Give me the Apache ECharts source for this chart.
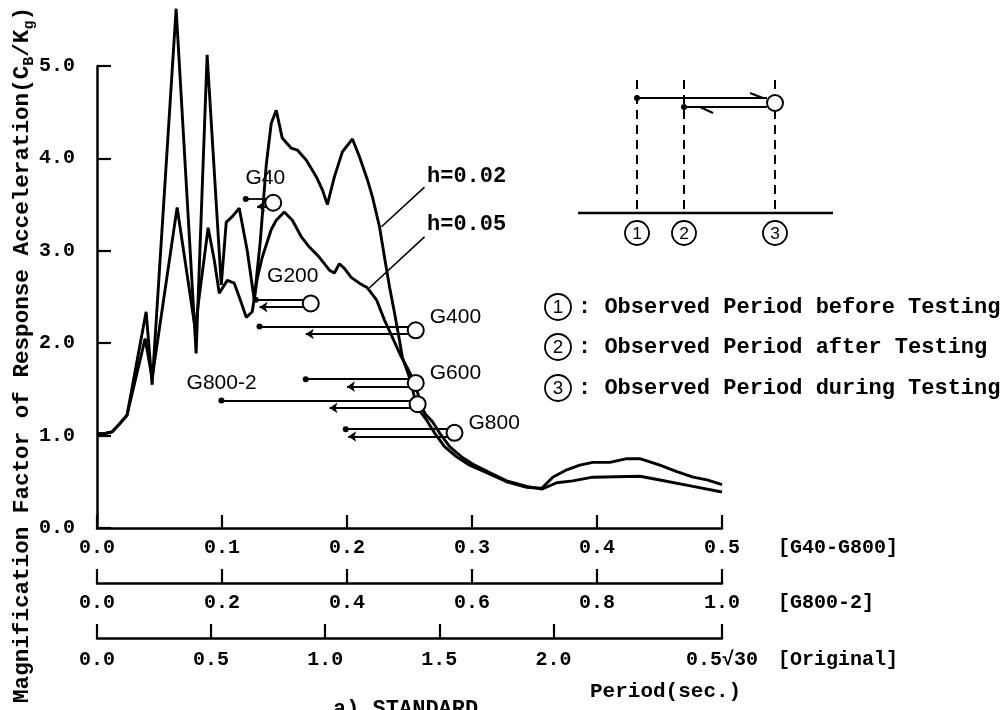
<!DOCTYPE html>
<html>
<head>
<meta charset="utf-8">
<script src="https://cdn.jsdelivr.net/npm/echarts@6.0.0/dist/echarts.min.js"></script>
<style>
html,body{margin:0;padding:0;background:#fff}
#chart{width:1006px;height:710px}
</style>
</head>
<body>
<div id="chart"></div>
<script>
// spectrum h=0.02 (period in sec, magnification factor)
var periodH002 = [0.000,0.0056,0.0120,0.0176,0.0240,0.0393,0.0441,0.0633,0.0793,0.0881,0.0994,0.1034,0.1082,0.1138,0.1202,0.1258,0.1306,0.1354,0.1394,0.1434,0.1482,0.1554,0.1603,0.1675,0.1755,0.1803,0.1843,0.1899,0.1963,0.2043,0.2099,0.2163,0.2204,0.2260,0.2300,0.2340,0.2380,0.2420,0.2444,0.2484,0.2516,0.2540,0.2564,0.2636,0.2700,0.2780,0.2877,0.2981,0.3117,0.3277,0.3438,0.3558,0.3646,0.3758,0.3862,0.3966,0.4103,0.4239,0.4343,0.4503,0.4639,0.4768,0.4880,0.5000];
var valueH002  = [1.02,1.02,1.04,1.12,1.22,2.34,1.55,5.62,1.89,5.12,2.63,3.31,3.37,3.46,3.00,2.47,3.10,3.93,4.38,4.52,4.22,4.11,4.09,3.98,3.80,3.66,3.50,3.80,4.07,4.21,4.02,3.77,3.58,3.26,2.93,2.61,2.33,2.03,1.84,1.69,1.56,1.41,1.30,1.17,1.03,0.88,0.77,0.68,0.60,0.50,0.44,0.43,0.55,0.63,0.68,0.71,0.71,0.75,0.75,0.68,0.61,0.55,0.52,0.47];

// spectrum h=0.05
var periodH005 = [0.000,0.0056,0.0120,0.0176,0.0240,0.0385,0.0441,0.0641,0.0785,0.0889,0.0938,0.0978,0.1042,0.1098,0.1146,0.1194,0.1242,0.1282,0.1322,0.1394,0.1434,0.1498,0.1563,0.1635,0.1699,0.1779,0.1859,0.1899,0.1939,0.1979,0.2035,0.2099,0.2163,0.2236,0.2300,0.2364,0.2428,0.2484,0.2532,0.2564,0.2588,0.2628,0.2684,0.2740,0.2821,0.2917,0.3021,0.3141,0.3277,0.3438,0.3558,0.3678,0.3806,0.3966,0.4343,0.4503,0.4768,0.5000];
var valueH005  = [1.02,1.02,1.04,1.12,1.22,2.05,1.62,3.47,2.16,3.25,2.90,2.54,2.68,2.65,2.47,2.28,2.34,2.70,2.93,3.23,3.33,3.42,3.33,3.15,3.04,2.93,2.79,2.76,2.86,2.81,2.71,2.65,2.60,2.47,2.25,2.06,1.87,1.73,1.60,1.47,1.34,1.23,1.15,1.03,0.88,0.77,0.68,0.60,0.51,0.45,0.42,0.49,0.51,0.55,0.56,0.52,0.45,0.39];

// observed periods [G40-G800] scale
var specimens = ['G40','G200','G400','G600','G800'];
var tBefore   = [0.119,0.127,0.130,0.167,0.199];
var tAfter    = [0.128,0.130,0.167,0.200,0.201];
var tDuring   = [0.141,0.171,0.255,0.255,0.286];
var levels    = [3.52,2.43,2.14,1.57,1.03];

// G800-2 on the [G800-2] scale
var g8002 = {name:'G800-2', before:0.199, after:0.372, during:0.513, level:1.34};

// tick labels of the three period scales
var ticksMain = [0,0.1,0.2,0.3,0.4,0.5];
var ticksG8002 = [0,0.2,0.4,0.6,0.8,1.0];
var ticksOrig = [0,0.5,1.0,1.5,2.0,0.5*Math.sqrt(30)];

var MONO = 'Liberation Mono';
var SANS = 'Liberation Sans';
var gap = 0.04;

function zip(a,b){ return a.map(function(v,i){ return [v,b[i]]; }); }

var labelOpt = {
  'G40':   {position:'top', offset:[-8,0]},
  'G200':  {position:'top', offset:[-18,-3]},
  'G400':  {position:'right', offset:[0,-13]},
  'G600':  {position:'right', offset:[0,-10]},
  'G800':  {position:'right', offset:[0,-10]},
  'G800-2':{position:'left', offset:[-147,-21]}
};

function markerSeries(names, bef, aft, dur, lev, xIdx){
  var fwd = [], ret = [], pts = [];
  for(var i=0;i<names.length;i++){
    fwd.push({coords:[[bef[i],lev[i]+gap],[dur[i],lev[i]+gap]]});
    ret.push({coords:[[dur[i],lev[i]-gap],[aft[i],lev[i]-gap]]});
    var lo = labelOpt[names[i]];
    pts.push({name:names[i], value:[dur[i],lev[i]], label:{show:true, position:lo.position, offset:lo.offset, formatter:'{b}', color:'#000', opacity:1, fontFamily:SANS, fontSize:21}});
  }
  return [
    {type:'lines', coordinateSystem:'cartesian2d', xAxisIndex:xIdx, yAxisIndex:0, data:fwd,
     symbol:['circle','none'], symbolSize:[6,0], lineStyle:{color:'#000', width:1.8, opacity:1}, z:2},
    {type:'lines', coordinateSystem:'cartesian2d', xAxisIndex:xIdx, yAxisIndex:0, data:ret,
     symbol:['none','arrow'], symbolSize:[0,8], lineStyle:{color:'#000', width:1.8, opacity:1}, z:2},
    {type:'scatter', xAxisIndex:xIdx, yAxisIndex:0, data:pts, symbol:'circle', symbolSize:16,
     itemStyle:{color:'#fff', borderColor:'#000', borderWidth:2, opacity:1}, z:4}
  ];
}

function circled(cx, cy, r, digit){
  return {type:'group', children:[
    {type:'circle', shape:{cx:cx, cy:cy, r:r}, style:{fill:'#fff', stroke:'#000', lineWidth:1.8}},
    {type:'text', x:cx, y:cy+1, style:{text:digit, fontFamily:SANS, fontSize:r*1.45, fill:'#000',
      align:'center', verticalAlign:'middle', textAlign:'center', textVerticalAlign:'middle'}}
  ]};
}
function txt(x, y, s, size, opts){
  var st = {text:s, fontFamily:MONO, fontSize:size, fontWeight:'bold', fill:'#000',
    align:'left', verticalAlign:'middle', textAlign:'left', textVerticalAlign:'middle'};
  if(opts){ for(var k in opts){ st[k]=opts[k]; } }
  return {type:'text', x:x, y:y, style:st};
}
function seg(x1,y1,x2,y2,w,dash){
  return {type:'line', shape:{x1:x1,y1:y1,x2:x2,y2:y2}, style:{stroke:'#000', lineWidth:w, lineDash:dash||null}};
}

var axisFont = {color:'#000', fontFamily:MONO, fontSize:20, fontWeight:'bold'};
var axLine = {show:true, lineStyle:{color:'#000', width:2.5}};

var option = {
  animation:false,
  backgroundColor:'#fff',
  grid:[
    {left:97, right:284, top:66, bottom:182},
    {left:97, right:284, top:582, height:1},
    {left:97, right:284, top:637, height:1}
  ],
  xAxis:[
    {type:'value', gridIndex:0, min:0, max:0.5, interval:0.1, axisLine:axLine,
     axisTick:{inside:true, length:13, lineStyle:{color:'#000', width:2.2}},
     axisLabel:Object.assign({margin:10, formatter:function(v){return v.toFixed(1);},
       customValues:ticksMain}, axisFont),
     splitLine:{show:false}},
    {type:'value', gridIndex:0, min:0, max:1.0, show:false},
    {type:'value', gridIndex:1, min:0, max:1.0, interval:0.2, axisLine:axLine,
     axisTick:{inside:true, length:14, lineStyle:{color:'#000', width:2.2}},
     axisLabel:Object.assign({margin:10, formatter:function(v){return v.toFixed(1);},
       customValues:ticksG8002}, axisFont),
     splitLine:{show:false}},
    {type:'value', gridIndex:2, min:0, max:ticksOrig[ticksOrig.length-1], axisLine:axLine,
     axisTick:{inside:true, length:14, customValues:ticksOrig, lineStyle:{color:'#000', width:2.2}},
     axisLabel:Object.assign({margin:12, customValues:ticksOrig,
       formatter:function(v){return v>2.5 ? '0.5\u221A30' : v.toFixed(1);}}, axisFont),
     splitLine:{show:false}}
  ],
  yAxis:[
    {type:'value', gridIndex:0, min:0, max:5, interval:1, axisLine:axLine,
     axisTick:{inside:true, length:14, lineStyle:{color:'#000', width:2.2}},
     axisLabel:Object.assign({margin:22, formatter:function(v){return v.toFixed(1);}}, axisFont),
     splitLine:{show:false}},
    {type:'value', gridIndex:1, show:false},
    {type:'value', gridIndex:2, show:false}
  ],
  series:[
    {type:'line', name:'h=0.02', data:zip(periodH002,valueH002), showSymbol:false, symbol:'none',
     clip:false, lineStyle:{color:'#000', width:2.9}, z:3,
     markLine:{silent:true, symbol:['none','arrow'], symbolSize:[0,10], label:{show:false},
       lineStyle:{color:'#000', width:1.6, type:'solid'},
       data:[[{coord:[0.262,3.69]},{coord:[0.2276,3.26]}]]}},
    {type:'line', name:'h=0.05', data:zip(periodH005,valueH005), showSymbol:false, symbol:'none',
     clip:false, lineStyle:{color:'#000', width:2.9}, z:3,
     markLine:{silent:true, symbol:['none','arrow'], symbolSize:[0,10], label:{show:false},
       lineStyle:{color:'#000', width:1.6, type:'solid'},
       data:[[{coord:[0.262,3.15]},{coord:[0.218,2.60]}]]}}
  ].concat(
    markerSeries(specimens, tBefore, tAfter, tDuring, levels, 0),
    markerSeries([g8002.name],[g8002.before],[g8002.after],[g8002.during],[g8002.level],1)
  ),
  graphic:{elements:[
    // y axis title
    {type:'text', x:22, y:355, rotation:Math.PI/2, style:{
      text:'{n|Magnification Factor of Response Acceleration(C}{s|B}{n|/K}{s|g}{n|)}',
      align:'center', verticalAlign:'middle', textAlign:'center', textVerticalAlign:'middle', fill:'#000',
      rich:{n:{fontFamily:MONO, fontSize:22.6, fontWeight:'bold', lineHeight:30, verticalAlign:'middle'},
            s:{fontFamily:MONO, fontSize:15, fontWeight:'bold', lineHeight:30, verticalAlign:'bottom'}}}},
    // curve labels
    txt(427,176,'h=0.02',22),
    txt(427,224,'h=0.05',22),
    // scale names
    txt(778,548,'[G40-G800]',20),
    txt(778,603,'[G800-2]',20),
    txt(778,660,'[Original]',20),
    txt(590,692,'Period(sec.)',21),
    txt(333,709,'a) STANDARD',22),
    // inset schematic
    seg(578,213,833,213,2.5),
    seg(637,80,637,213,2,[9,6]),
    seg(684,80,684,213,2,[9,6]),
    seg(775,80,775,213,2,[9,6]),
    seg(637,98,767,98,2),
    seg(750,93,763,98,2),
    seg(767,107,684,107,2),
    seg(700,107,713,113,2),
    {type:'circle', shape:{cx:637, cy:98, r:3}, style:{fill:'#000'}},
    {type:'circle', shape:{cx:684, cy:107, r:3}, style:{fill:'#000'}},
    {type:'circle', shape:{cx:775, cy:103, r:8}, style:{fill:'#fff', stroke:'#000', lineWidth:2}},
    circled(637,233,12,'1'),
    circled(684,233,12,'2'),
    circled(775,233,12,'3'),
    // legend
    circled(558,307,13,'1'),
    circled(558,347,13,'2'),
    circled(558,388,13,'3'),
    txt(578,307,': Observed Period before Testing',22),
    txt(578,347,': Observed Period after Testing',22),
    txt(578,388,': Observed Period during Testing',22)
  ]}
};

var chart = echarts.init(document.getElementById('chart'), null, {renderer:'canvas'});
chart.setOption(option);
</script>
</body>
</html>
